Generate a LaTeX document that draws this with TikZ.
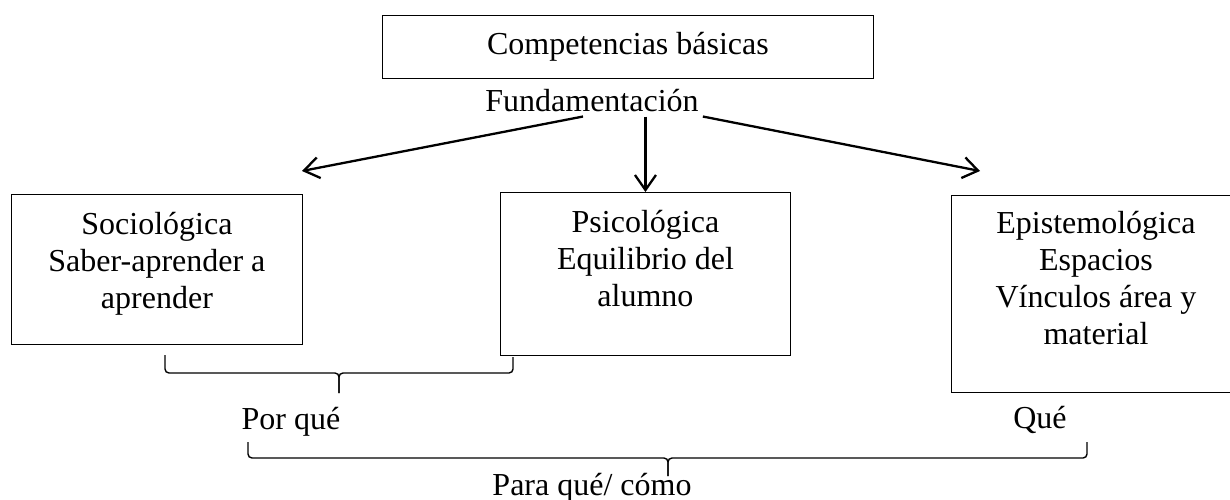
\documentclass[tikz,border=0pt]{standalone}
\usepackage{fontspec}
\setmainfont{Liberation Serif}
\usetikzlibrary{arrows.meta,positioning}

\begin{document}
\begin{tikzpicture}[x=1pt,y=-1pt,>={Straight Barb[length=15pt,width=21pt]},
       font=\fontsize{32}{37}\selectfont]
       \tikzstyle{caja}=[draw, line width=0.9pt, inner sep=0pt, anchor=north west]
       \tikzstyle{texto}=[align=center, inner sep=0pt]
       \tikzstyle{flecha}=[->, line width=2.3pt]
       \tikzstyle{llave}=[line width=1.4pt, rounded corners=4pt]

       \useasboundingbox (0,0) rectangle (1230,500);

       \node[caja, minimum width=491pt, minimum height=63pt] (comp) at (382,15) {Competencias básicas};
       \node[anchor=base, inner sep=4pt] (fund) at (592,112) {Fundamentación};

       \node[caja, minimum width=291pt, minimum height=150pt] (soc) at (11,194) {};
       \node[caja, minimum width=290pt, minimum height=163pt] (psi) at (500,192) {};
       \node[caja, minimum width=289pt, minimum height=197pt] (epi) at (951,195) {};

       \node[texto, below=18pt of soc.north] (socT) {Sociológica\\Saber-aprender a\\aprender};
       \node[texto, below=18pt of psi.north] (psiT) {Psicológica\\Equilibrio del\\alumno};
       \node[texto, below=16pt of epi.north] (epiT) {Epistemológica\\Espacios\\Vínculos área y\\material};

       \node[anchor=base] (porque) at (291,429) {Por qué};
       \node[anchor=base] (que) at (1040,428) {Qué};
       \node[anchor=base] (paraque) at (592,495) {Para qué/ cómo};

       \coordinate (socTip) at (302,171);
       \coordinate (epiTip) at (980,171);

       \draw[flecha] ([xshift=-9pt]fund.south) -- (socTip);
       \draw[flecha] (fund.south -| psi.north) -- (psi.north);
       \draw[flecha] (fund.south east) -- (epiTip);

       % llaves
       \draw[llave] (165,355) |- (339,373) -- (339,393);
       \draw[llave] (513,357) |- (339,373) -- (339,393);
       \draw[llave] (248,442) |- (668,458) -- (668,476);
       \draw[llave] (1087,442) |- (668,458) -- (668,476);
     \end{tikzpicture}
\end{document}
